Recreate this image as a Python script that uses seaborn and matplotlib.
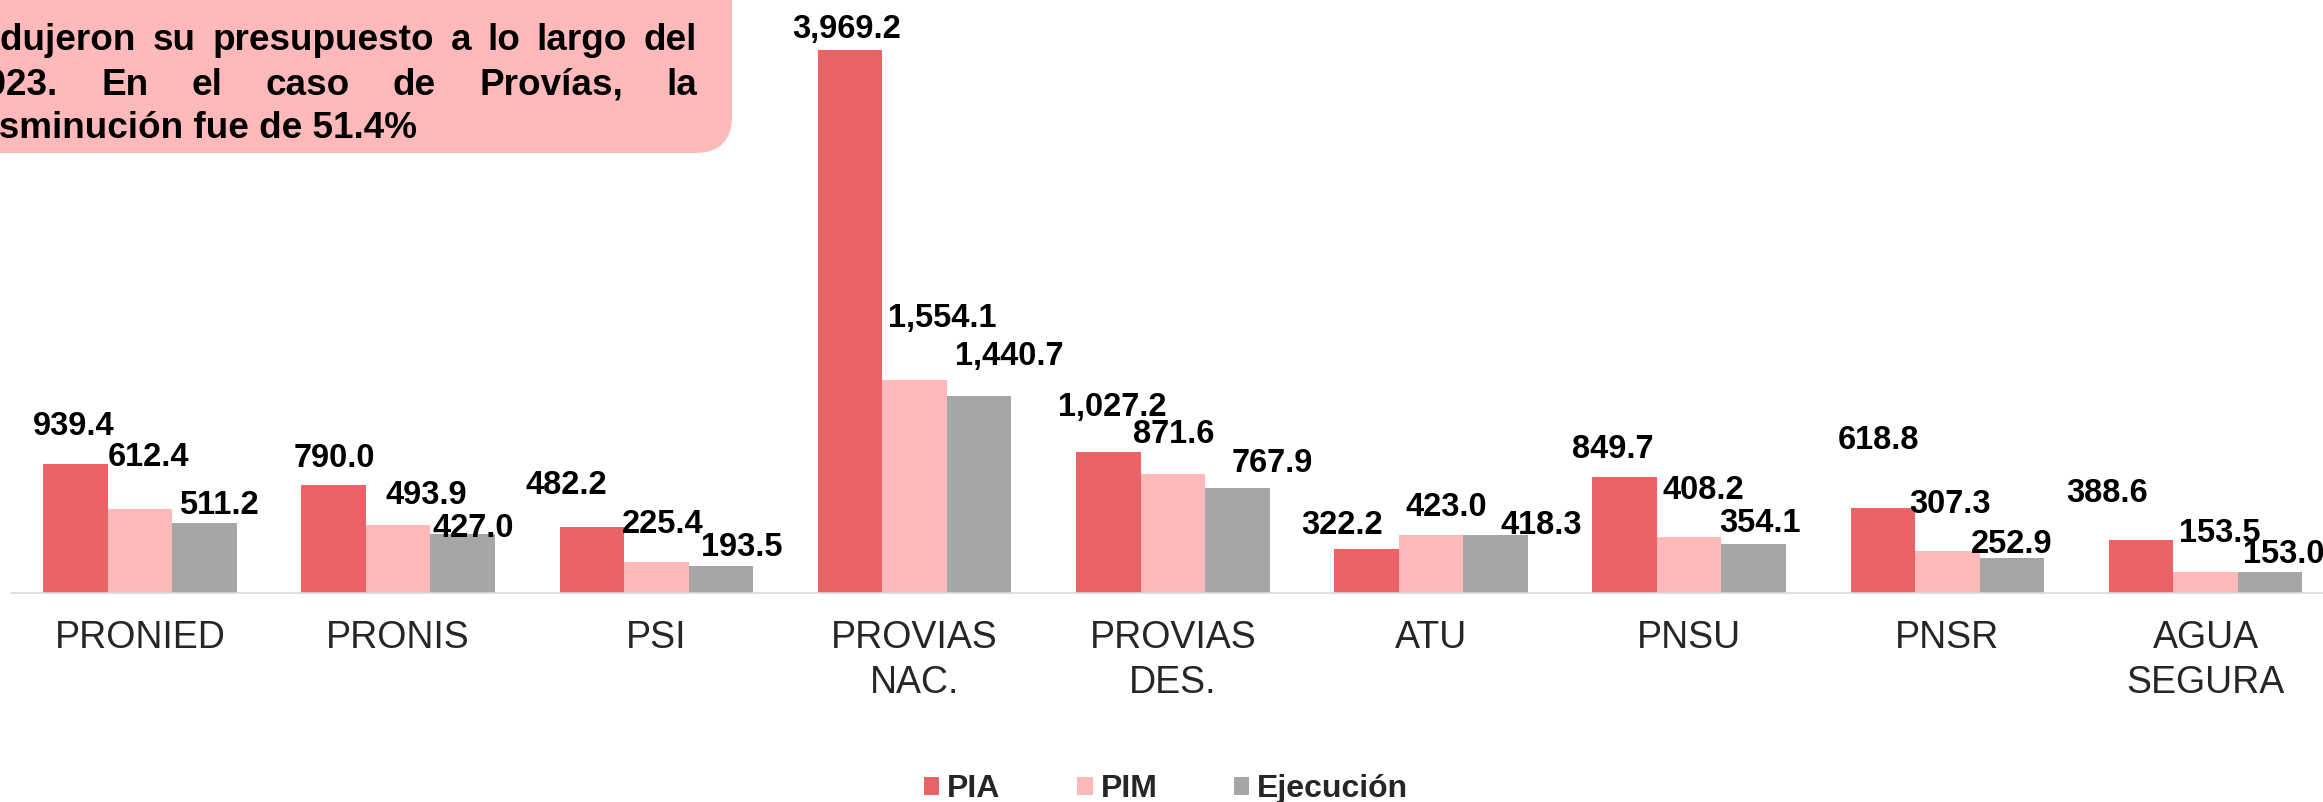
import matplotlib
matplotlib.use('Agg')
import matplotlib.pyplot as plt
from matplotlib.patches import FancyBboxPatch, Patch
import pandas as pd
import seaborn as sns

# Data (millones de soles)
programas = ['PRONIED', 'PRONIS', 'PSI', 'PROVIAS\nNAC.', 'PROVIAS\nDES.',
             'ATU', 'PNSU', 'PNSR', 'AGUA\nSEGURA']
series = ['PIA', 'PIM', 'Ejecución']
pia = [939.4, 790.0, 482.2, 3969.2, 1027.2, 322.2, 849.7, 618.8, 388.6]
pim = [612.4, 493.9, 225.4, 1554.1, 871.6, 423.0, 408.2, 307.3, 153.5]
ejecucion = [511.2, 427.0, 193.5, 1440.7, 767.9, 418.3, 354.1, 252.9, 153.0]

colores = ['#EA6366', '#FFB9BB', '#A6A6A6']

recuadro = ['redujeron su presupuesto a lo largo del',
            '2023. En el caso de Provías, la',
            'disminución fue de 51.4%']

# label nudges (pixels) relative to the top centre of each bar, as placed in the original
label_dx = {
    'PIA': [-1.7, 0.3, -25.1, -3.7, 4.2, -24.3, -11.4, -4.6, -33.9],
    'PIM': [8.5, 27.8, 6.3, 27.2, 1.0, 15.2, 14.6, 2.8, 14.1],
    'Ejecución': [14.2, 10.1, 20.8, 29.7, 34.5, 45.7, 6.0, -0.4, 13.4],
}
label_rise = {
    'PIA': [29.3, 18.0, 32.4, 12.9, 36.3, 14.6, 18.2, 59.1, 37.8],
    'PIM': [42.9, 21.1, 29.1, 53.7, 30.3, 18.8, 37.8, 37.9, 29.9],
    'Ejecución': [8.8, -2.4, 10.2, 31.1, 15.4, 1.5, 12.5, 4.8, 8.4],
}

df = pd.DataFrame({
    'programa': programas * 3,
    'serie': [s for s in series for _ in programas],
    'monto': pia + pim + ejecucion,
})

sns.set_style('white')
plt.rcParams['font.family'] = ['Liberation Sans', 'DejaVu Sans']

DPI = 100
fig = plt.figure(figsize=(23.23, 8.02), dpi=DPI)
px2pt = 72 / DPI

# axes placed so the baseline sits at 592.6 px and 1 unit = 0.13658 px
ax = fig.add_axes([10.9 / 2323, (802 - 592.6) / 802, 9 * 258.2 / 2323, 592.6 / 802])
sns.barplot(data=df, x='programa', y='monto', hue='serie', palette=colores,
            width=0.75, gap=0, saturation=1, linewidth=0, legend=False, ax=ax)
ax.set_ylim(0, 592.6 / 0.13658)
ax.set_xlim(-0.5, len(programas) - 0.5)
ax.set_xlabel('')
ax.set_ylabel('')
ax.set_yticks([])
for s in ['top', 'left', 'right']:
    ax.spines[s].set_visible(False)
ax.spines['bottom'].set_color('#D9D9D9')
ax.spines['bottom'].set_linewidth(1.2)
ax.tick_params(axis='x', length=0, pad=20, labelsize=27)
for t in ax.get_xticklabels():
    t.set_linespacing(1.3)

# data labels
for serie, cont in zip(series, ax.containers):
    for i, bar in enumerate(cont):
        v = bar.get_height()
        ax.annotate(f'{v:,.1f}', xy=(bar.get_x() + bar.get_width() / 2, v),
                    xytext=(label_dx[serie][i] * px2pt, label_rise[serie][i] * px2pt),
                    textcoords='offset points', ha='center', va='baseline',
                    fontsize=23.5, fontweight='bold', color='black')

# legend
handles = [Patch(facecolor=c, edgecolor='none', label=s) for c, s in zip(colores, series)]
fig.legend(handles=handles, loc='center', bbox_to_anchor=(0.502, 0.016), ncol=3,
           frameon=False, prop={'size': 23, 'weight': 'bold'},
           handlelength=0.48, handleheight=0.48, handletextpad=0.25,
           columnspacing=2.4, borderaxespad=0, borderpad=0)

# pink note box, cut by the top-left corner of the figure
box = FancyBboxPatch((-1.0, (802 - 153) / 100), 8.32, 4.0,
                     boxstyle='round,pad=0,rounding_size=0.37',
                     transform=fig.dpi_scale_trans, facecolor='#FFB9BB',
                     edgecolor='none', zorder=0)
fig.patches.append(box)

renderer = fig.canvas.get_renderer()
x_left, x_right = -0.34, 6.97
base0, step = 0.505, 0.44
for k, linea in enumerate(recuadro):
    y = (802 / 100) - (base0 + k * step)
    words = linea.split()
    kw = dict(fontsize=26.6, fontweight='bold', color='black', va='baseline',
              transform=fig.dpi_scale_trans)
    if k == len(recuadro) - 1:
        fig.text(x_left, y, linea, ha='left', **kw)
        continue
    arts = [fig.text(0, y, w, ha='left', **kw) for w in words]
    widths = [a.get_window_extent(renderer).width / DPI for a in arts]
    gap = (x_right - x_left - sum(widths)) / (len(words) - 1)
    x = x_left
    for a, w in zip(arts, widths):
        a.set_x(x)
        x += w + gap

fig.savefig('out.png', dpi=DPI)
